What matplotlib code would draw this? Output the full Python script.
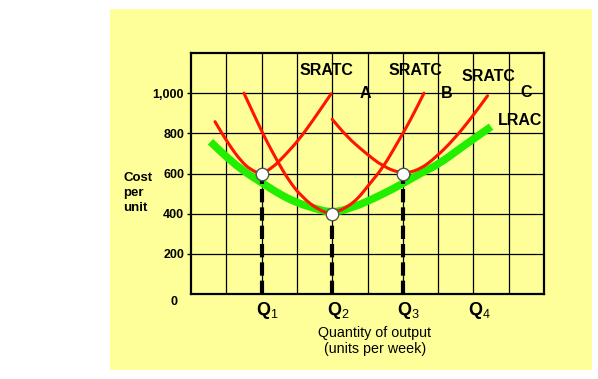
import matplotlib
matplotlib.use("Agg")
import matplotlib.pyplot as plt
from matplotlib.patches import Rectangle, PathPatch
from matplotlib.path import Path

plt.rcParams['font.family'] = ['Liberation Sans', 'DejaVu Sans']
plt.rcParams['mathtext.fontset'] = 'custom'
plt.rcParams['mathtext.rm'] = 'Liberation Sans'
plt.rcParams['mathtext.bf'] = 'Liberation Sans:bold'

# ---- data ----
sratc_a_x = [0.68, 1.05, 1.43, 1.71, 1.97, 2.29, 2.67, 3.05, 3.43, 3.97]
sratc_a_y = [858, 750, 658, 617, 598, 625, 692, 767, 858, 997]

sratc_b_x = [1.50, 1.81, 2.10, 2.43, 2.76, 3.14, 3.62, 4.00, 4.61, 5.07, 5.45, 5.84, 6.22, 6.60]
sratc_b_y = [1000, 883, 775, 667, 567, 483, 417, 397, 450, 550, 633, 750, 867, 1000]

sratc_c_x = [4.00, 4.42, 4.90, 5.45, 6.00, 6.49, 6.95, 7.43, 7.90, 8.40]
sratc_c_y = [870, 783, 708, 633, 598, 620, 683, 767, 867, 987]

lrac_x = [0.55, 1.05, 1.52, 2.00, 2.48, 2.95, 3.43, 4.00, 4.61, 5.07, 5.55, 6.00, 6.49, 7.05, 7.62, 8.50]
lrac_y = [758, 675, 608, 555, 500, 458, 430, 402, 433, 467, 508, 550, 600, 650, 725, 833]

q_positions = [2, 4, 6, 8]
q_labels = [r"$\mathbf{Q}_{1}$", r"$\mathbf{Q}_{2}$", r"$\mathbf{Q}_{3}$", r"$\mathbf{Q}_{4}$"]
point_x = [2, 4, 6]
point_y = [600, 400, 600]

y_ticks = [200, 400, 600, 800, 1000]
y_tick_labels = ["200", "400", "600", "800", "1,000"]


def smooth_path(xs, ys):
    """Quadratic B-spline style path through the read points (rendering only)."""
    pts = list(zip(xs, ys))
    verts = [pts[0]]
    codes = [Path.MOVETO]
    mids = [((pts[i][0] + pts[i + 1][0]) / 2, (pts[i][1] + pts[i + 1][1]) / 2)
            for i in range(len(pts) - 1)]
    verts.append(mids[0]); codes.append(Path.LINETO)
    for i in range(1, len(pts) - 1):
        verts += [pts[i], mids[i]]
        codes += [Path.CURVE3, Path.CURVE3]
    verts.append(pts[-1]); codes.append(Path.LINETO)
    return Path(verts, codes)


def draw_curve(ax, xs, ys, color, lw, z, capstyle='round'):
    patch = PathPatch(smooth_path(xs, ys), facecolor='none', edgecolor=color,
                      linewidth=lw, zorder=z, capstyle=capstyle, joinstyle='round')
    ax.add_patch(patch)


# ---- figure ----
W, H = 598, 379
fig = plt.figure(figsize=(W / 100, H / 100), dpi=100)
fig.patch.set_facecolor('white')
yellow = '#FFFF99'
fig.patches.append(Rectangle((110 / W, 1 - 370 / H), (592 - 110) / W, (370 - 9) / H,
                             transform=fig.transFigure, facecolor=yellow,
                             edgecolor='none', zorder=-10))

ax = fig.add_axes([191 / W, 1 - 294 / H, (544 - 191) / W, (294 - 53) / H])
ax.set_zorder(1)
ax.set_facecolor(yellow)
ax.set_xlim(0, 10)
ax.set_ylim(0, 1200)
ax.set_xticks(range(1, 10))
ax.set_xticklabels([])
ax.tick_params(axis='x', length=0)
ax.set_yticks(y_ticks)
ax.set_yticklabels(y_tick_labels, fontsize=9, fontweight='bold')
ax.tick_params(axis='y', length=3, width=1, pad=2)
ax.grid(True, color='black', linewidth=0.9)
ax.set_axisbelow(True)
for s in ax.spines.values():
    s.set_linewidth(1.6)

# curves
draw_curve(ax, lrac_x, lrac_y, '#22EE00', 5.5, 3, capstyle='butt')
draw_curve(ax, sratc_a_x, sratc_a_y, '#FF1400', 2.2, 4)
draw_curve(ax, sratc_b_x, sratc_b_y, '#FF1400', 2.2, 4)
draw_curve(ax, sratc_c_x, sratc_c_y, '#FF1400', 2.2, 4)

# dashed drop lines
for px, py in zip(point_x, point_y):
    ln, = ax.plot([px, px], [0, py], color='black', linewidth=3, zorder=5)
    ln.set_dashes((3.2, 1.2))
ax.plot(point_x, point_y, 'o', markersize=9, markerfacecolor='white',
        markeredgecolor='#555555', markeredgewidth=1, zorder=6, clip_on=False)

# labels
lab = dict(fontsize=11.5, fontweight='bold', ha='center', va='center')
ax.text(3.85, 1115, "SRATC", **lab)
ax.text(4.95, 1000, "A", **lab)
ax.text(6.35, 1115, "SRATC", **lab)
ax.text(7.25, 997, "B", **lab)
ax.text(8.42, 1085, "SRATC", **lab)
ax.text(9.5, 1003, "C", **lab)
ax.text(9.33, 863, "LRAC", **lab)

for qx, ql in zip(q_positions, q_labels):
    ax.text(qx + 0.17, -80, ql, fontsize=13, ha='center', va='center', clip_on=False)

ax.text(-0.47, -40, "0", fontsize=9, fontweight='bold', ha='center', va='center', clip_on=False)

fig.text(123 / W, 1 - 193 / H, "Cost\nper\nunit", fontsize=9.5, fontweight='bold',
         ha='left', va='center', linespacing=1.3)
fig.text(375 / W, 1 - 341 / H, "Quantity of output\n(units per week)", fontsize=10.3,
         ha='center', va='center', linespacing=1.15)

fig.savefig("out.png", dpi=100)
